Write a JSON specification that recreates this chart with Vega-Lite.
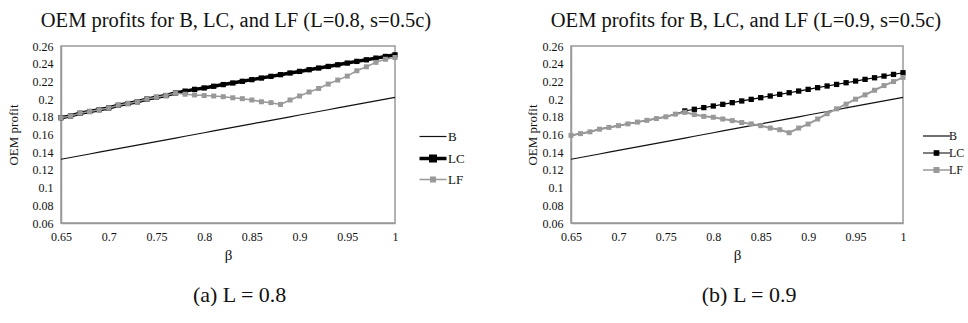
{
  "$schema": "https://vega.github.io/schema/vega-lite/v6.json",
  "padding": {"left": 6, "top": 9, "right": 0, "bottom": 0},
  "background": "white",
  "datasets": {
    "L08": [
      {"beta": 0.65, "B": 0.132, "LC": 0.179, "LF": 0.179},
      {"beta": 0.66, "B": 0.134, "LC": 0.181, "LF": 0.181},
      {"beta": 0.67, "B": 0.136, "LC": 0.184, "LF": 0.184},
      {"beta": 0.68, "B": 0.138, "LC": 0.186, "LF": 0.186},
      {"beta": 0.69, "B": 0.140, "LC": 0.188, "LF": 0.188},
      {"beta": 0.70, "B": 0.142, "LC": 0.190, "LF": 0.190},
      {"beta": 0.71, "B": 0.144, "LC": 0.193, "LF": 0.193},
      {"beta": 0.72, "B": 0.146, "LC": 0.195, "LF": 0.195},
      {"beta": 0.73, "B": 0.148, "LC": 0.197, "LF": 0.197},
      {"beta": 0.74, "B": 0.150, "LC": 0.200, "LF": 0.200},
      {"beta": 0.75, "B": 0.152, "LC": 0.202, "LF": 0.202},
      {"beta": 0.76, "B": 0.154, "LC": 0.204, "LF": 0.204},
      {"beta": 0.77, "B": 0.156, "LC": 0.207, "LF": 0.207},
      {"beta": 0.78, "B": 0.158, "LC": 0.209, "LF": 0.2055},
      {"beta": 0.79, "B": 0.160, "LC": 0.211, "LF": 0.2047},
      {"beta": 0.80, "B": 0.162, "LC": 0.2126, "LF": 0.204},
      {"beta": 0.81, "B": 0.164, "LC": 0.2145, "LF": 0.2035},
      {"beta": 0.82, "B": 0.166, "LC": 0.2164, "LF": 0.2027},
      {"beta": 0.83, "B": 0.168, "LC": 0.2182, "LF": 0.2015},
      {"beta": 0.84, "B": 0.170, "LC": 0.2201, "LF": 0.2005},
      {"beta": 0.85, "B": 0.172, "LC": 0.222, "LF": 0.199},
      {"beta": 0.86, "B": 0.174, "LC": 0.2238, "LF": 0.197},
      {"beta": 0.87, "B": 0.176, "LC": 0.2257, "LF": 0.196},
      {"beta": 0.88, "B": 0.178, "LC": 0.2276, "LF": 0.194},
      {"beta": 0.89, "B": 0.180, "LC": 0.2295, "LF": 0.199},
      {"beta": 0.90, "B": 0.182, "LC": 0.2313, "LF": 0.2035},
      {"beta": 0.91, "B": 0.184, "LC": 0.2332, "LF": 0.208},
      {"beta": 0.92, "B": 0.186, "LC": 0.2351, "LF": 0.212},
      {"beta": 0.93, "B": 0.188, "LC": 0.2369, "LF": 0.217},
      {"beta": 0.94, "B": 0.190, "LC": 0.2388, "LF": 0.2215},
      {"beta": 0.95, "B": 0.192, "LC": 0.2407, "LF": 0.226},
      {"beta": 0.96, "B": 0.194, "LC": 0.2426, "LF": 0.232},
      {"beta": 0.97, "B": 0.196, "LC": 0.2444, "LF": 0.2365},
      {"beta": 0.98, "B": 0.198, "LC": 0.2463, "LF": 0.2415},
      {"beta": 0.99, "B": 0.200, "LC": 0.2482, "LF": 0.245},
      {"beta": 1.00, "B": 0.202, "LC": 0.250, "LF": 0.247}
    ],
    "L09": [
      {"beta": 0.65, "B": 0.132, "LC": 0.159, "LF": 0.159},
      {"beta": 0.66, "B": 0.134, "LC": 0.161, "LF": 0.161},
      {"beta": 0.67, "B": 0.136, "LC": 0.163, "LF": 0.163},
      {"beta": 0.68, "B": 0.138, "LC": 0.166, "LF": 0.166},
      {"beta": 0.69, "B": 0.140, "LC": 0.168, "LF": 0.168},
      {"beta": 0.70, "B": 0.142, "LC": 0.170, "LF": 0.170},
      {"beta": 0.71, "B": 0.144, "LC": 0.172, "LF": 0.172},
      {"beta": 0.72, "B": 0.146, "LC": 0.174, "LF": 0.174},
      {"beta": 0.73, "B": 0.148, "LC": 0.176, "LF": 0.176},
      {"beta": 0.74, "B": 0.150, "LC": 0.178, "LF": 0.178},
      {"beta": 0.75, "B": 0.152, "LC": 0.180, "LF": 0.180},
      {"beta": 0.76, "B": 0.154, "LC": 0.183, "LF": 0.183},
      {"beta": 0.77, "B": 0.156, "LC": 0.1866, "LF": 0.185},
      {"beta": 0.78, "B": 0.158, "LC": 0.1885, "LF": 0.1825},
      {"beta": 0.79, "B": 0.160, "LC": 0.1904, "LF": 0.1805},
      {"beta": 0.80, "B": 0.162, "LC": 0.1922, "LF": 0.1795},
      {"beta": 0.81, "B": 0.164, "LC": 0.1941, "LF": 0.1775},
      {"beta": 0.82, "B": 0.166, "LC": 0.196, "LF": 0.1757},
      {"beta": 0.83, "B": 0.168, "LC": 0.1979, "LF": 0.1735},
      {"beta": 0.84, "B": 0.170, "LC": 0.1997, "LF": 0.172},
      {"beta": 0.85, "B": 0.172, "LC": 0.2016, "LF": 0.170},
      {"beta": 0.86, "B": 0.174, "LC": 0.2035, "LF": 0.1673},
      {"beta": 0.87, "B": 0.176, "LC": 0.2054, "LF": 0.1654},
      {"beta": 0.88, "B": 0.178, "LC": 0.2072, "LF": 0.162},
      {"beta": 0.89, "B": 0.180, "LC": 0.2091, "LF": 0.1673},
      {"beta": 0.90, "B": 0.182, "LC": 0.211, "LF": 0.1718},
      {"beta": 0.91, "B": 0.184, "LC": 0.2129, "LF": 0.1775},
      {"beta": 0.92, "B": 0.186, "LC": 0.2148, "LF": 0.1835},
      {"beta": 0.93, "B": 0.188, "LC": 0.2166, "LF": 0.189},
      {"beta": 0.94, "B": 0.190, "LC": 0.2185, "LF": 0.1943},
      {"beta": 0.95, "B": 0.192, "LC": 0.2204, "LF": 0.1999},
      {"beta": 0.96, "B": 0.194, "LC": 0.2223, "LF": 0.2048},
      {"beta": 0.97, "B": 0.196, "LC": 0.2241, "LF": 0.21},
      {"beta": 0.98, "B": 0.198, "LC": 0.226, "LF": 0.2153},
      {"beta": 0.99, "B": 0.200, "LC": 0.2279, "LF": 0.2198},
      {"beta": 1.00, "B": 0.202, "LC": 0.2298, "LF": 0.2245}
    ]
  },
  "config": {
    "font": "Liberation Serif, serif",
    "view": {"stroke": "#999999", "strokeWidth": 1.5},
    "axis": {
      "grid": false, "ticks": false, "domainColor": "#999999", "domainWidth": 1.5,
      "labelFont": "Liberation Serif, serif", "labelFontSize": 12, "labelColor": "#111111",
      "titleFont": "Liberation Serif, serif", "titleFontWeight": "normal", "titleColor": "#111111",
      "labelFlush": false, "labelOverlap": false
    },
    "title": {"font": "Liberation Serif, serif", "fontWeight": "normal", "color": "#111111"},
    "legend": {"labelFont": "Liberation Serif, serif", "labelFontSize": 12, "labelColor": "#111111"},
    "text": {"font": "Liberation Serif, serif"}
  },
  "spacing": 60,
  "resolve": {"scale": {"color": "independent"}, "legend": {"color": "independent"}},
  "hconcat": [
    {
      "title": {"text": "(a) L = 0.8", "orient": "bottom", "fontSize": 22, "font": "Liberation Serif, serif", "anchor": "middle", "offset": 22, "dx": 4},
      "vconcat": [
        {
          "title": {"text": "OEM profits for B, LC, and LF (L=0.8,  s=0.5c)", "fontSize": 20.5, "font": "Liberation Serif, serif", "anchor": "middle", "frame": "group", "dx": 8, "offset": 9},
          "width": 334, "height": 177,
          "data": {"name": "L08"},
          "transform": [{"fold": ["B", "LC", "LF"], "as": ["series", "profit"]}],
          "encoding": {
            "x": {"field": "beta", "type": "quantitative", "scale": {"domain": [0.65, 1], "nice": false, "zero": false},
              "axis": {"title": "β", "titleFontSize": 15, "labelPadding": 8, "titlePadding": 5, "labelFont": "Liberation Serif, serif", "titleFont": "Liberation Serif, serif",
                "values": [0.65, 0.7, 0.75, 0.8, 0.85, 0.9, 0.95, 1], "labelExpr": "format(datum.value, '~g')"}},
            "y": {"field": "profit", "type": "quantitative", "scale": {"domain": [0.06, 0.26], "nice": false, "zero": false},
              "axis": {"title": "OEM profit", "titleFontSize": 13, "labelPadding": 8, "titlePadding": 12, "labelFont": "Liberation Serif, serif", "titleFont": "Liberation Serif, serif",
                "values": [0.06, 0.08, 0.1, 0.12, 0.14, 0.16, 0.18, 0.2, 0.22, 0.24, 0.26], "labelExpr": "format(datum.value, '~g')"}},
            "color": {"field": "series", "type": "nominal",
              "scale": {"domain": ["B", "LC", "LF"], "range": ["#111111", "#000000", "#999999"]},
              "legend": {"orient": "none", "legendX": 370, "legendY": 84, "title": null, "symbolSize": 324,
                "labelOffset": 4, "rowPadding": 5, "padding": 0, "labelFont": "Liberation Serif, serif", "labelFontSize": 13,
                "encode": {"symbols": {"update": {
                  "shape": {"signal": "datum.value === 'B' ? 'M-2,0H1' : 'M-2,0H1M-0.75,-0.25H-0.25V0.25H-0.75Z'"},
                  "fill": {"signal": "datum.value === 'B' ? 'transparent' : datum.value === 'LC' ? '#000000' : '#999999'"},
                  "stroke": {"signal": "datum.value === 'LF' ? '#999999' : '#000000'"},
                  "strokeWidth": {"signal": "datum.value === 'LC' ? 3.5 : datum.value === 'LF' ? 1.5 : 1.2"},
                  "opacity": {"value": 1}
                }}}}}
          },
          "layer": [
            {"transform": [{"filter": "datum.series === 'B'"}], "mark": {"type": "line", "strokeWidth": 1.2}},
            {"transform": [{"filter": "datum.series === 'LC'"}], "mark": {"type": "line", "strokeWidth": 3.5}},
            {"transform": [{"filter": "datum.series === 'LC'"}], "mark": {"type": "point", "shape": "square", "filled": true, "size": 28, "opacity": 1}},
            {"transform": [{"filter": "datum.series === 'LF'"}], "mark": {"type": "line", "strokeWidth": 1.5}},
            {"transform": [{"filter": "datum.series === 'LF'"}], "mark": {"type": "point", "shape": "square", "filled": true, "size": 25, "opacity": 1}}
          ]
        }
      ]
    },
    {
      "title": {"text": "(b) L = 0.9", "orient": "bottom", "fontSize": 22, "font": "Liberation Serif, serif", "anchor": "middle", "offset": 22, "dx": 4},
      "vconcat": [
        {
          "title": {"text": "OEM profits for B, LC, and LF (L=0.9, s=0.5c)", "fontSize": 20.5, "font": "Liberation Serif, serif", "anchor": "middle", "frame": "group", "dx": 9, "offset": 9},
          "width": 332, "height": 177,
          "data": {"name": "L09"},
          "transform": [{"fold": ["B", "LC", "LF"], "as": ["series", "profit"]}],
          "encoding": {
            "x": {"field": "beta", "type": "quantitative", "scale": {"domain": [0.65, 1], "nice": false, "zero": false},
              "axis": {"title": "β", "titleFontSize": 15, "labelPadding": 8, "titlePadding": 5, "labelFont": "Liberation Serif, serif", "titleFont": "Liberation Serif, serif",
                "values": [0.65, 0.7, 0.75, 0.8, 0.85, 0.9, 0.95, 1], "labelExpr": "format(datum.value, '~g')"}},
            "y": {"field": "profit", "type": "quantitative", "scale": {"domain": [0.06, 0.26], "nice": false, "zero": false},
              "axis": {"title": "OEM profit", "titleFontSize": 13, "labelPadding": 8, "titlePadding": 3, "labelFont": "Liberation Serif, serif", "titleFont": "Liberation Serif, serif",
                "values": [0.06, 0.08, 0.1, 0.12, 0.14, 0.16, 0.18, 0.2, 0.22, 0.24, 0.26], "labelExpr": "format(datum.value, '~g')"}},
            "color": {"field": "series", "type": "nominal",
              "scale": {"domain": ["B", "LC", "LF"], "range": ["#111111", "#000000", "#999999"]},
              "legend": {"orient": "none", "legendX": 364, "legendY": 84, "title": null, "symbolSize": 324,
                "labelOffset": 2, "rowPadding": 5, "padding": 0, "labelFont": "Liberation Serif, serif", "labelFontSize": 12,
                "encode": {"symbols": {"update": {
                  "shape": {"signal": "datum.value === 'B' ? 'M-2,0H1' : 'M-2,0H1M-0.75,-0.25H-0.25V0.25H-0.75Z'"},
                  "fill": {"signal": "datum.value === 'B' ? 'transparent' : datum.value === 'LC' ? '#000000' : '#999999'"},
                  "stroke": {"signal": "datum.value === 'LF' ? '#999999' : '#000000'"},
                  "strokeWidth": {"signal": "datum.value === 'LF' ? 1.5 : 1.2"},
                  "opacity": {"value": 1}
                }}}}}
          },
          "layer": [
            {"transform": [{"filter": "datum.series === 'B'"}], "mark": {"type": "line", "strokeWidth": 1.2}},
            {"transform": [{"filter": "datum.series === 'LC'"}], "mark": {"type": "line", "strokeWidth": 1.2}},
            {"transform": [{"filter": "datum.series === 'LC' && datum.beta >= 0.77"}], "mark": {"type": "point", "shape": "square", "filled": true, "size": 28, "opacity": 1}},
            {"transform": [{"filter": "datum.series === 'LF'"}], "mark": {"type": "line", "strokeWidth": 2}},
            {"transform": [{"filter": "datum.series === 'LF'"}], "mark": {"type": "point", "shape": "square", "filled": true, "size": 25, "opacity": 1}}
          ]
        }
      ]
    }
  ]
}
